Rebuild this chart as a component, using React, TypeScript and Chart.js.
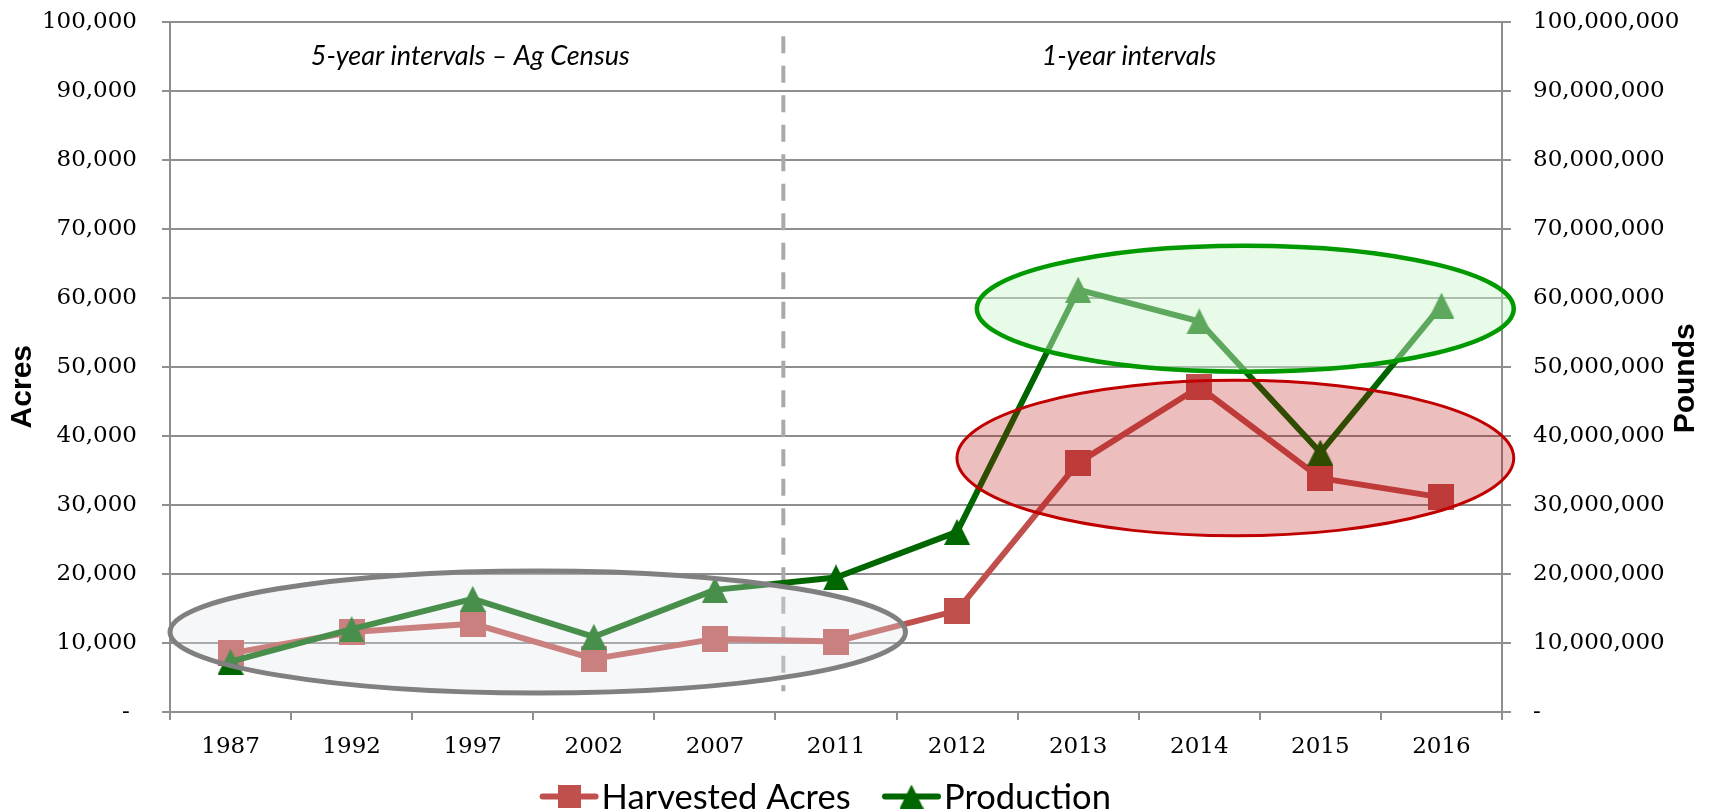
import React, { useEffect, useRef } from "react";
import { Chart, registerables } from "chart.js";

Chart.register(...registerables);

// ---------- data ----------
const categories = ["1987", "1992", "1997", "2002", "2007", "2011", "2012", "2013", "2014", "2015", "2016"];
const harvestedAcres = [8500, 11600, 12800, 7700, 10600, 10200, 14700, 36100, 47100, 33900, 31100];
const productionPounds = [7300000, 12000000, 16400000, 10900000, 17700000, 19500000, 26100000, 61200000, 56600000, 37600000, 58900000];

const acresTickLabels = ["- ", "10,000", "20,000", "30,000", "40,000", "50,000", "60,000", "70,000", "80,000", "90,000", "100,000"];
const poundsTickLabels = ["-", "10,000,000", "20,000,000", "30,000,000", "40,000,000", "50,000,000", "60,000,000", "70,000,000", "80,000,000", "90,000,000", "100,000,000"];

const seriesNames = ["Harvested Acres", "Production"];
const axisTitles = ["Acres", "Pounds"];

// annotations in data units (x = category index, y = acres axis value)
const sectionLabels = [
  { text: "5-year intervals – Ag Census", x: 1.98, y: 93800 },
  { text: "1-year intervals", x: 7.42, y: 93800 },
];
const dividerLine = { x: 4.565, yFrom: 3000, yTo: 97950 };
const highlightEllipses = [
  { cx: 2.537, cy: 11600, rx: 3.037, ry: 8850, stroke: "#808080", fill: "rgba(226,230,236,0.32)", width: 5 },
  { cx: 8.298, cy: 36800, rx: 2.299, ry: 11270, stroke: "#C00000", fill: "rgba(184,0,0,0.255)", width: 3 },
  { cx: 8.38, cy: 58450, rx: 2.217, ry: 9140, stroke: "#009900", fill: "rgba(204,246,204,0.46)", width: 4.5 },
];

// ---------- styles ----------
const RED = "#C0504D";
const GREEN = "#006600";
const GRID = "#8E8E8E";
const TICK_FONT = "'DejaVu Serif', serif";

function makeSquare(size: number, color: string) {
  const c = document.createElement("canvas");
  c.width = size;
  c.height = size;
  const g = c.getContext("2d")!;
  g.fillStyle = color;
  g.fillRect(0, 0, size, size);
  return c;
}

function makeTriangle(w: number, h: number, color: string) {
  const c = document.createElement("canvas");
  c.width = w;
  c.height = h;
  const g = c.getContext("2d")!;
  g.fillStyle = color;
  g.beginPath();
  g.moveTo(w / 2, 0);
  g.lineTo(w, h);
  g.lineTo(0, h);
  g.closePath();
  g.fill();
  return c;
}

export default function App() {
  const canvasRef = useRef<HTMLCanvasElement | null>(null);

  useEffect(() => {
    const canvas = canvasRef.current;
    if (!canvas) return;
    const squareImg = makeSquare(26, RED);
    const triImg = makeTriangle(26, 26, GREEN);
    const legendSquare = makeSquare(23, RED);
    const legendTri = makeTriangle(24, 24, GREEN);

    const overlayPlugin = {
      id: "overlay",
      beforeDatasetsDraw(chart: any) {
        const { ctx } = chart;
        const xs = chart.scales.x;
        const ys = chart.scales.y;
        ctx.save();
        ctx.strokeStyle = "#A9A9A9";
        ctx.lineWidth = 4;
        ctx.setLineDash([17, 12.5]);
        const px = xs.getPixelForValue(dividerLine.x);
        ctx.beginPath();
        ctx.moveTo(px, ys.getPixelForValue(dividerLine.yTo));
        ctx.lineTo(px, ys.getPixelForValue(dividerLine.yFrom));
        ctx.stroke();
        ctx.restore();
      },
      afterDatasetsDraw(chart: any) {
        const { ctx } = chart;
        const xs = chart.scales.x;
        const ys = chart.scales.y;
        const step = xs.getPixelForValue(1) - xs.getPixelForValue(0);
        ctx.save();
        for (const e of highlightEllipses) {
          const cx = xs.getPixelForValue(e.cx);
          const cy = ys.getPixelForValue(e.cy);
          const rx = e.rx * step;
          const ry = Math.abs(ys.getPixelForValue(0) - ys.getPixelForValue(e.ry));
          ctx.beginPath();
          ctx.ellipse(cx, cy, rx, ry, 0, 0, Math.PI * 2);
          ctx.fillStyle = e.fill;
          ctx.fill();
          ctx.lineWidth = e.width;
          ctx.strokeStyle = e.stroke;
          ctx.stroke();
        }
        ctx.restore();
      },
      afterDraw(chart: any) {
        const { ctx } = chart;
        const xs = chart.scales.x;
        const ys = chart.scales.y;
        ctx.save();
        // section labels
        ctx.fillStyle = "#000";
        ctx.font = "italic 27px Lato, 'Open Sans', sans-serif";
        ctx.textAlign = "center";
        ctx.textBaseline = "alphabetic";
        for (const s of sectionLabels) {
          ctx.fillText(s.text, xs.getPixelForValue(s.x), ys.getPixelForValue(s.y));
        }
        // axis titles
        ctx.font = "bold 30px 'Liberation Sans', Arial, sans-serif";
        ctx.textBaseline = "middle";
        const titlePos = [
          [22.5, 386.7],
          [1686, 378.3],
        ];
        axisTitles.forEach((t, i) => {
          ctx.save();
          ctx.translate(titlePos[i][0], titlePos[i][1]);
          ctx.rotate(-Math.PI / 2);
          ctx.fillText(t, 0, 0);
          ctx.restore();
        });
        // legend
        const legendY = 796.5;
        const starts = [539.6, 882];
        const colors = [RED, GREEN];
        const markers = [legendSquare, legendTri];
        ctx.font = "34.5px Lato, 'Open Sans', sans-serif";
        ctx.textAlign = "left";
        ctx.textBaseline = "alphabetic";
        seriesNames.forEach((name, i) => {
          const x0 = starts[i];
          ctx.strokeStyle = colors[i];
          ctx.lineWidth = 6;
          ctx.lineCap = "round";
          ctx.beginPath();
          ctx.moveTo(x0 + 3, legendY);
          ctx.lineTo(x0 + 56, legendY);
          ctx.stroke();
          const m = markers[i];
          const mx = x0 + 29.5;
          ctx.drawImage(m, mx - m.width / 2, legendY - m.height / 2);
          ctx.fillStyle = "#000";
          ctx.fillText(name, x0 + 62, legendY + 12);
        });
        ctx.restore();
      },
    };

    const chart = new Chart(canvas, {
      type: "line",
      data: {
        labels: categories,
        datasets: [
          {
            label: seriesNames[0],
            data: harvestedAcres,
            yAxisID: "y",
            borderColor: RED,
            backgroundColor: RED,
            borderWidth: 6,
            borderJoinStyle: "round",
            borderCapStyle: "round",
            pointStyle: squareImg as any,
            pointRadius: 13,
            tension: 0,
            fill: false,
            order: 1,
          },
          {
            label: seriesNames[1],
            data: productionPounds,
            yAxisID: "y1",
            borderColor: GREEN,
            backgroundColor: GREEN,
            borderWidth: 6,
            borderJoinStyle: "round",
            borderCapStyle: "round",
            pointStyle: triImg as any,
            pointRadius: 13,
            tension: 0,
            fill: false,
            order: 0,
          },
        ],
      },
      options: {
        responsive: false,
        animation: false,
        devicePixelRatio: 1,
        events: [],
        layout: { padding: { top: 22, left: 0, right: 0, bottom: 0 } },
        plugins: {
          legend: { display: false },
          tooltip: { enabled: false },
        },
        scales: {
          x: {
            type: "category",
            offset: true,
            grid: {
              offset: true,
              drawOnChartArea: false,
              drawTicks: true,
              tickLength: 8,
              color: GRID,
              lineWidth: 2,
            },
            border: { display: true, color: GRID, width: 2 },
            ticks: {
              color: "#000",
              font: { family: TICK_FONT, size: 23 },
              padding: 13,
              maxRotation: 0,
              autoSkip: false,
            },
            afterFit: (scale: any) => {
              scale.height = 100;
              scale.paddingLeft = 0;
              scale.paddingRight = 0;
            },
          },
          y: {
            type: "linear",
            position: "left",
            min: 0,
            max: 100000,
            grid: { color: GRID, lineWidth: 2, tickLength: 8, drawTicks: true },
            border: { display: true, color: GRID, width: 2 },
            ticks: {
              stepSize: 10000,
              color: "#000",
              font: { family: TICK_FONT, size: 23 },
              padding: 25,
              callback: (_v: any, i: number) => acresTickLabels[i],
            },
            afterFit: (scale: any) => {
              scale.width = 170;
              scale.paddingTop = 0;
              scale.paddingBottom = 0;
            },
          },
          y1: {
            type: "linear",
            position: "right",
            min: 0,
            max: 100000000,
            grid: { drawOnChartArea: false, color: GRID, lineWidth: 2, tickLength: 9, drawTicks: true },
            border: { display: true, color: GRID, width: 2 },
            ticks: {
              stepSize: 10000000,
              color: "#000",
              font: { family: TICK_FONT, size: 23 },
              padding: 22,
              callback: (_v: any, i: number) => poundsTickLabels[i],
            },
            afterFit: (scale: any) => {
              scale.width = 213;
              scale.paddingTop = 0;
              scale.paddingBottom = 0;
            },
          },
        },
      },
      plugins: [overlayPlugin],
    } as any);

    return () => chart.destroy();
  }, []);

  return (
    <div style={{ position: "absolute", left: 0, top: 0, width: 1715, height: 812, background: "#fff" }}>
      <canvas ref={canvasRef} width={1715} height={812} style={{ display: "block" }} />
    </div>
  );
}
